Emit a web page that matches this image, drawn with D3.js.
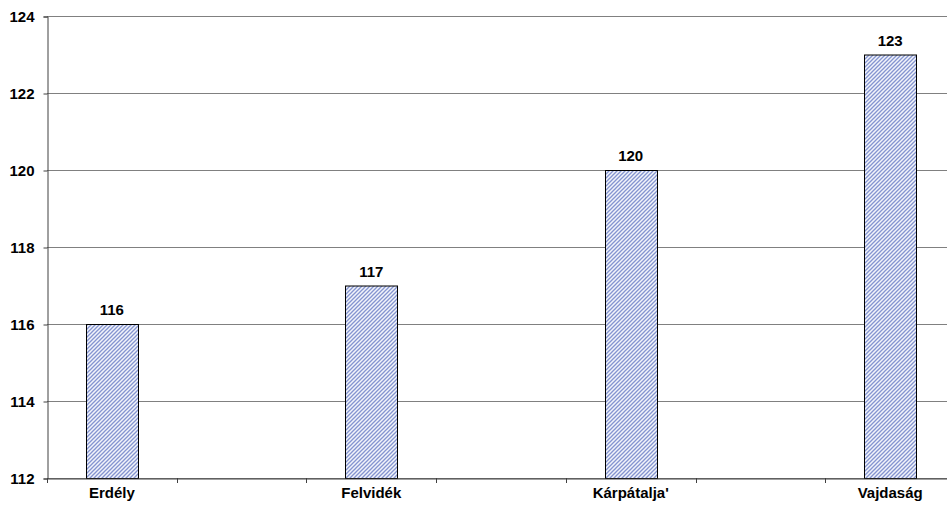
<!DOCTYPE html>
<html lang="hu">
<head>
<meta charset="UTF-8">
<title>Bar</title>
<script src="https://d3js.org/d3.v7.min.js"></script>
<style>
    body { margin: 0; background: #fff; }
    text {
        font-family: 'Liberation Sans', Arial, sans-serif;
        font-weight: bold;
        font-size: 15px;
        fill: #000;
    }
</style>
</head>
<body>
<script>
    const width  = 947;
    const height = 506;

    // empty slots between the regions, as in the original sheet
    const categories = ["Erdély", "", "Felvidék", "", "Kárpátalja'", "", "Vajdaság"];
    const values     = [116, null, 117, null, 120, null, 123];
    const yTicks     = [112, 114, 116, 118, 120, 122, 124];

    const plotLeft = 47, plotRight = 955, plotTop = 16, plotBottom = 478;

    const x = d3.scaleBand().domain(d3.range(categories.length)).range([plotLeft, plotRight]).paddingInner(0).paddingOuter(0);
    const y = d3.scaleLinear().domain([112, 124]).range([plotBottom, plotTop]);

    const svg = d3.select("body").append("svg").attr("width", width).attr("height", height);

    const defs = svg.append("defs");
    const pat = defs.append("pattern")
            .attr("id", "hatch")
            .attr("patternUnits", "userSpaceOnUse")
            .attr("width", 4).attr("height", 4);
    pat.append("rect").attr("width", 4).attr("height", 4).attr("fill", "#f2f4fb");
    pat.append("path")
            .attr("d", "M-1,1 l2,-2 M0,4 l4,-4 M3,5 l2,-2")
            .attr("stroke", "#8494d0")
            .attr("stroke-width", 1.3);

    // gridlines
    svg.append("g").selectAll("line")
            .data(yTicks).enter()
            .append("line")
            .attr("x1", plotLeft).attr("x2", width)
            .attr("y1", d => y(d) + 0.5).attr("y2", d => y(d) + 0.5)
            .attr("stroke", "#808080").attr("stroke-width", 1);

    // y axis
    const yAxis = d3.axisLeft(y).tickValues(yTicks).tickSize(4).tickPadding(9);
    const gy = svg.append("g").attr("transform", `translate(${plotLeft + 0.5},0.5)`).call(yAxis);
    gy.select(".domain").attr("stroke", "#404040");
    gy.selectAll(".tick line").attr("stroke", "#404040");
    gy.selectAll("text").attr("font-size", null).attr("font-family", null).attr("dy", "0.36em");

    // bars
    const barW = x.bandwidth() * 0.4;
    const bars = categories.map((c, i) => ({c: c, v: values[i], i: i})).filter(d => d.v != null);

    svg.append("g").selectAll("rect")
            .data(bars).enter()
            .append("rect")
            .attr("x", d => Math.round(x(d.i) + (x.bandwidth() - barW) / 2) + 0.5)
            .attr("y", d => y(d.v) + 0.5)
            .attr("width", Math.round(barW))
            .attr("height", d => y(112) - y(d.v))
            .attr("fill", "url(#hatch)")
            .attr("stroke", "#000").attr("stroke-width", 1);

    svg.append("g").selectAll("text")
            .data(bars).enter()
            .append("text")
            .attr("x", d => x(d.i) + x.bandwidth() / 2)
            .attr("y", d => y(d.v) - 9)
            .attr("text-anchor", "middle")
            .text(d => d.v);

    // x axis
    const xAxis = d3.axisBottom(x).tickSize(0).tickFormat(i => categories[i]);
    const gx = svg.append("g").attr("transform", `translate(0,${plotBottom + 0.5})`).call(xAxis);
    gx.select(".domain").attr("stroke", "#404040");
    gx.selectAll(".tick text").attr("font-size", null).attr("font-family", null).attr("y", 19).attr("dy", 0);

    // category separators
    svg.append("g").selectAll("line")
            .data(d3.range(categories.length + 1)).enter()
            .append("line")
            .attr("x1", i => Math.round(plotLeft + i * x.step()) + 0.5)
            .attr("x2", i => Math.round(plotLeft + i * x.step()) + 0.5)
            .attr("y1", plotBottom).attr("y2", plotBottom + 5)
            .attr("stroke", "#404040");
</script>
</body>
</html>
